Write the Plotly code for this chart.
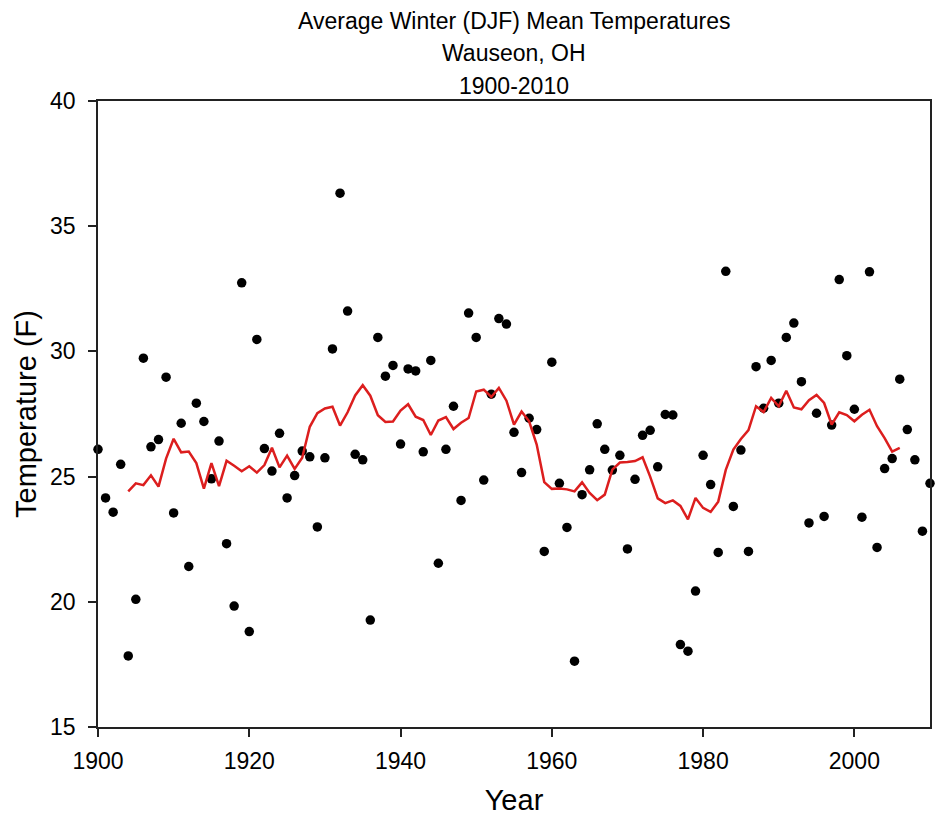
import plotly.graph_objects as go

years = list(range(1900, 2011))
temps = [
    26.09, 24.15, 23.58, 25.49, 17.84, 20.10, 29.73, 26.19, 26.48, 28.97,
    23.55, 27.13, 21.41, 27.93, 27.20, 24.91, 26.42, 22.32, 19.83, 32.74,
    18.81, 30.48, 26.12, 25.22, 26.73, 24.15, 25.04, 26.02, 25.79, 22.99,
    25.75, 30.10, 36.32, 31.61, 25.89, 25.67, 19.27, 30.56, 29.01, 29.44,
    26.30, 29.30, 29.22, 25.99, 29.64, 21.54, 26.09, 27.81, 24.05, 31.53,
    30.56, 24.86, 28.29, 31.31, 31.09, 26.77, 25.16, 27.33, 26.88, 22.01,
    29.57, 24.73, 22.97, 17.63, 24.28, 25.27, 27.11, 26.09, 25.26, 25.85,
    22.11, 24.89, 26.65, 26.85, 25.39, 27.48, 27.46, 18.29, 18.03, 20.43,
    25.85, 24.68, 21.97, 33.20, 23.81, 26.06, 22.01, 29.39, 27.73, 29.64,
    27.93, 30.56, 31.13, 28.79, 23.15, 27.53, 23.41, 27.06, 32.87, 29.83,
    27.69, 23.38, 33.18, 22.17, 25.32, 25.72, 28.89, 26.88, 25.67, 22.82,
    24.73,
]

smooth_years = list(range(1904, 2007))
smooth_vals = [
    24.41, 24.73, 24.66, 25.05, 24.60, 25.72, 26.51, 25.97, 26.00, 25.54,
    24.52, 25.54, 24.62, 25.63, 25.43, 25.21, 25.41, 25.16, 25.46, 26.15,
    25.37, 25.84, 25.31, 25.75, 26.99, 27.53, 27.72, 27.79, 27.04, 27.57,
    28.24, 28.65, 28.23, 27.45, 27.18, 27.20, 27.64, 27.89, 27.39, 27.26,
    26.66, 27.24, 27.38, 26.90, 27.15, 27.34, 28.40, 28.47, 28.18, 28.54,
    28.03, 27.08, 27.60, 27.21, 26.28, 24.78, 24.51, 24.52, 24.49, 24.41,
    24.77, 24.35, 24.06, 24.28, 25.28, 25.56, 25.58, 25.62, 25.77, 25.00,
    24.13, 23.94, 24.05, 23.83, 23.29, 24.15, 23.75, 23.59, 24.00, 25.27,
    26.08, 26.50, 26.86, 27.81, 27.58, 28.14, 27.81, 28.43, 27.76, 27.69,
    28.05, 28.26, 27.94, 27.08, 27.57, 27.46, 27.21, 27.47, 27.67, 27.01,
    26.54, 26.00, 26.15,
]

title_lines = ["Average Winter (DJF) Mean Temperatures", "Wauseon, OH", "1900-2010"]
x_ticks = [1900, 1920, 1940, 1960, 1980, 2000]
y_ticks = [15, 20, 25, 30, 35, 40]

FONT = "Liberation Sans, Arial, sans-serif"

fig = go.Figure()
fig.add_trace(go.Scatter(
    x=years, y=temps, mode="markers",
    marker=dict(color="black", size=9.5),
    cliponaxis=False, showlegend=False,
))
fig.add_trace(go.Scatter(
    x=smooth_years, y=smooth_vals, mode="lines",
    line=dict(color="#dc1e1e", width=2.5),
    showlegend=False,
))

fig.update_layout(
    width=936, height=823,
    margin=dict(l=98, r=4, t=101, b=96),
    paper_bgcolor="white", plot_bgcolor="white",
    font=dict(family=FONT, color="black"),
    showlegend=False,
)

fig.update_xaxes(
    range=[1900, 2010], tickvals=x_ticks, ticktext=[str(v) for v in x_ticks],
    showgrid=False, zeroline=False,
    showline=True, linecolor="#222", linewidth=1.5, mirror=True,
    ticks="outside", ticklen=8, tickwidth=1.5, tickcolor="#222",
    tickfont=dict(size=23, family=FONT), ticklabelstandoff=5,
    title=dict(text="Year", font=dict(size=29, family=FONT), standoff=16),
)
fig.update_yaxes(
    range=[15, 40], tickvals=y_ticks, ticktext=[str(v) for v in y_ticks],
    showgrid=False, zeroline=False,
    showline=True, linecolor="#222", linewidth=1.5, mirror=True,
    ticks="outside", ticklen=8, tickwidth=1.5, tickcolor="#222",
    tickfont=dict(size=23, family=FONT), ticklabelstandoff=8,
    title=dict(text="Temperature (F)", font=dict(size=29, family=FONT), standoff=5),
)

for i, (txt, ypix) in enumerate(zip(title_lines, [21, 53, 86])):
    fig.add_annotation(
        text=txt, xref="paper", yref="paper", x=0.5,
        y=1 + (101 - ypix) / (823 - 101 - 96),
        showarrow=False, xanchor="center", yanchor="middle",
        font=dict(size=23, family=FONT, color="black"),
    )

fig.write_html("out.html")
